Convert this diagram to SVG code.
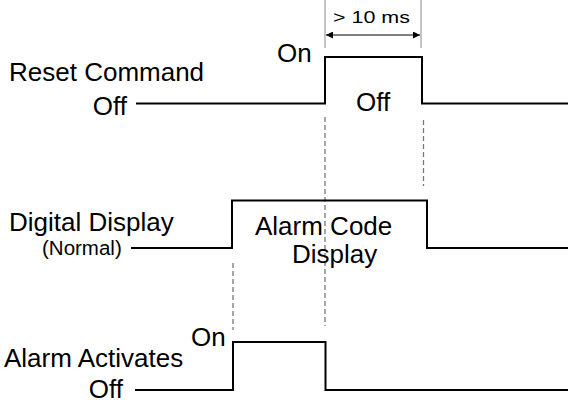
<svg xmlns="http://www.w3.org/2000/svg" width="573" height="404" viewBox="0 0 573 404">
<style>
  text { font-family: "Liberation Sans", Arial, Helvetica, sans-serif; fill: #000; }
  .big { font-size: 26px; }
  .small { font-size: 20.5px; }
  .dim { font-size: 16.5px; }
  .wave { fill: none; stroke: #000; stroke-width: 2; }
  .dash { fill: none; stroke: #777; stroke-width: 1.3; stroke-dasharray: 5 3; }
  .ext { fill: none; stroke: #888; stroke-width: 1; }
  .arrow { fill: none; stroke: #000; stroke-width: 1; }
</style>
<defs>
  <marker id="ah" viewBox="0 0 10 10" refX="10" refY="5" markerWidth="9" markerHeight="7" markerUnits="userSpaceOnUse" orient="auto-start-reverse">
    <path d="M0,0 L10,5 L0,10 Z" fill="#000"/>
  </marker>
</defs>
<rect width="573" height="404" fill="#fff"/>
<g id="connectors">
  <line class="dash" x1="325" y1="117" x2="325" y2="326"/>
  <line class="dash" x1="423.5" y1="120" x2="423.5" y2="186"/>
  <line class="dash" x1="233" y1="263" x2="233" y2="330"/>
  <line class="ext" x1="325" y1="0" x2="325" y2="48"/>
  <line class="ext" x1="421" y1="0" x2="421" y2="48"/>
  <line class="arrow" x1="326" y1="35" x2="420" y2="35" marker-start="url(#ah)" marker-end="url(#ah)"/>
</g>
<g id="reset-command">
  <path class="wave" d="M136,103.5 H325 V57 H422 V103.5 H568"/>
  <text class="big" x="9" y="81">Reset Command</text>
  <text class="big" x="127" y="114.5" text-anchor="end">Off</text>
  <text class="big" x="277" y="61.5">On</text>
  <text class="big" x="356" y="111">Off</text>
  <text class="dim" x="333" y="23" textLength="77" lengthAdjust="spacingAndGlyphs">&gt; 10 ms</text>
</g>
<g id="digital-display">
  <path class="wave" d="M131,248 H232 V200.5 H427 V248 H568"/>
  <text class="big" x="9" y="230.5">Digital Display</text>
  <text class="small" x="42" y="254.5">(Normal)</text>
  <text class="big" x="255" y="235">Alarm Code</text>
  <text class="big" x="292" y="262.5">Display</text>
</g>
<g id="alarm-activates">
  <path class="wave" d="M135,390 H233 V342 H325.5 V390 H568"/>
  <text class="big" x="4" y="366.5">Alarm Activates</text>
  <text class="big" x="191" y="345.5">On</text>
  <text class="big" x="123" y="398" text-anchor="end">Off</text>
</g>
</svg>
